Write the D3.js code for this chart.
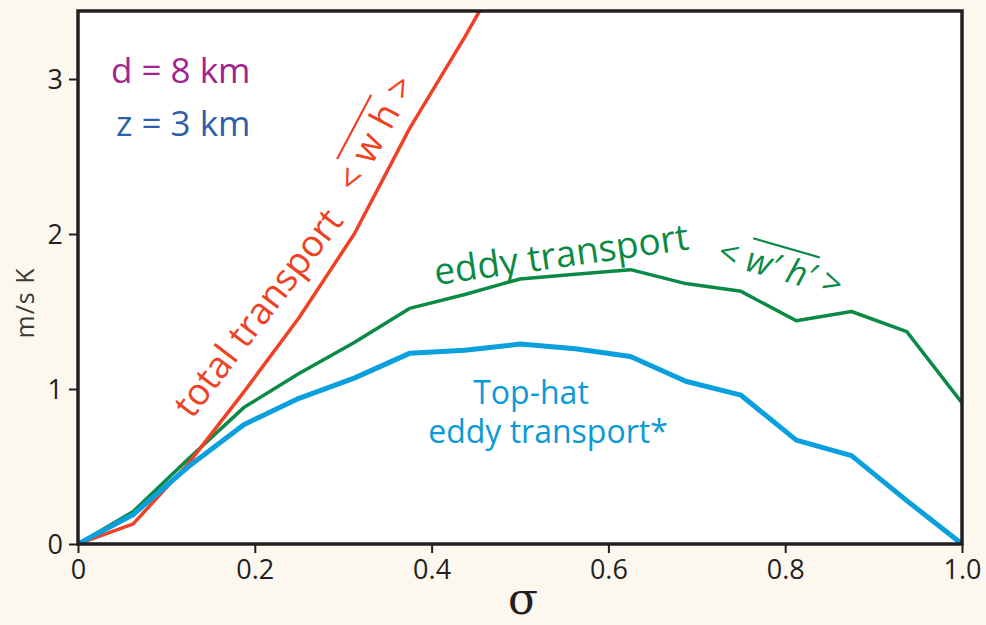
<!DOCTYPE html>
<html>
<head>
<meta charset="utf-8">
<script src="https://cdn.jsdelivr.net/npm/d3@7"></script>
<style>
  body { margin: 0; background: #fdf8ef; }
  svg { display: block; font-family: "Open Sans", sans-serif; }
</style>
</head>
<body>
<div id="chart"></div>
<script>
const width = 986,
      height = 625,
      margin = ({ top: 11, right: 24, bottom: 81, left: 78 });

// sigma positions (16 equal steps)
const sigma = [0, 0.0625, 0.125, 0.1875, 0.25, 0.3125, 0.375, 0.4375, 0.5,
               0.5625, 0.625, 0.6875, 0.75, 0.8125, 0.875, 0.9375, 1.0];
const totalTransport = [0, 0.13, 0.52, 0.98, 1.46, 2.0, 2.68, 3.27, 3.9];
const eddyTransport = [0, 0.21, 0.55, 0.88, 1.10, 1.30, 1.52, 1.61, 1.71,
                       1.74, 1.77, 1.68, 1.63, 1.44, 1.50, 1.37, 0.91];
const topHat = [0, 0.19, 0.50, 0.77, 0.94, 1.07, 1.23, 1.25, 1.29,
                1.26, 1.21, 1.05, 0.96, 0.67, 0.57, 0.28, 0];
const xTicks = [0, 0.2, 0.4, 0.6, 0.8, 1.0];
const xTickLabels = ["0", "0.2", "0.4", "0.6", "0.8", "1.0"];
const yTicks = [0, 1, 2, 3];

const svg = d3.select("#chart")
    .append("svg")
    .attr("width", width)
    .attr("height", height);

let x = d3.scaleLinear()
    .domain([0, 1])
    .range([margin.left, width - margin.right]);

let y = d3.scaleLinear()
    .domain([0, 3])
    .range([height - margin.bottom, height - margin.bottom - 3 * 155]);

const plotTop = margin.top,
      plotBottom = height - margin.bottom;

svg.append("defs").append("clipPath")
    .attr("id", "clip")
    .append("rect")
    .attr("x", margin.left)
    .attr("y", plotTop)
    .attr("width", width - margin.right - margin.left)
    .attr("height", plotBottom - plotTop);

svg.append("rect")
    .attr("x", margin.left)
    .attr("y", plotTop)
    .attr("width", width - margin.right - margin.left)
    .attr("height", plotBottom - plotTop)
    .attr("fill", "#fff");

// axes
let xAxis = svg.append("g")
    .attr("transform", `translate(0, ${plotBottom})`)
    .call(d3.axisBottom(x).tickValues(xTicks).tickSize(9).tickPadding(7)
        .tickFormat((d, i) => xTickLabels[i]));

let yAxis = svg.append("g")
    .attr("transform", `translate(${margin.left}, 0)`)
    .call(d3.axisLeft(y).tickValues(yTicks).tickSize(9).tickPadding(6)
        .tickFormat(d3.format("d")));

[xAxis, yAxis].forEach(a => {
    a.select(".domain").remove();
    a.selectAll("line").attr("stroke", "#231f20").attr("stroke-width", 2);
    a.selectAll("text")
        .attr("fill", "#231f20")
        .style("font-family", "'Open Sans', sans-serif")
        .style("font-size", "27px");
});
yAxis.selectAll("text").attr("dy", "0.36em");

// lines
const line = (vals) => d3.line()
    .x((d, i) => x(sigma[i]))
    .y(d => y(d))(vals);

const plot = svg.append("g").attr("clip-path", "url(#clip)");

plot.append("path")
    .attr("d", line(eddyTransport))
    .attr("fill", "none")
    .attr("stroke", "#0b8a45")
    .attr("stroke-width", 3.5)
    .attr("stroke-linejoin", "round");

plot.append("path")
    .attr("d", line(totalTransport))
    .attr("fill", "none")
    .attr("stroke", "#ef4123")
    .attr("stroke-width", 3.5)
    .attr("stroke-linejoin", "round");

plot.append("path")
    .attr("d", line(topHat))
    .attr("fill", "none")
    .attr("stroke", "#0aa0dd")
    .attr("stroke-width", 5)
    .attr("stroke-linejoin", "round");

// frame
svg.append("rect")
    .attr("x", margin.left)
    .attr("y", plotTop)
    .attr("width", width - margin.right - margin.left)
    .attr("height", plotBottom - plotTop)
    .attr("fill", "none")
    .attr("stroke", "#231f20")
    .attr("stroke-width", 3.5);

// annotations
svg.append("text")
    .attr("x", 111).attr("y", 83)
    .attr("fill", "#a3238e")
    .style("font-size", "35px")
    .text("d = 8 km");

svg.append("text")
    .attr("x", 116).attr("y", 136)
    .attr("fill", "#2e5fa9")
    .style("font-size", "35px")
    .text("z = 3 km");

function overline(t, i0, i1, lift, color) {
    let n = t.node();
    let a = n.getStartPositionOfChar(i0),
        b = n.getEndPositionOfChar(i1);
    d3.select(n.parentNode).append("line")
        .attr("x1", a.x).attr("x2", b.x)
        .attr("y1", -lift).attr("y2", -lift)
        .attr("stroke", color)
        .attr("stroke-width", 2.2);
}

// total transport
svg.append("g")
    .attr("transform", "translate(192, 420) rotate(-52.5)")
    .append("text")
    .attr("fill", "#ef4123")
    .style("font-size", "37px")
    .text("total transport");

let gRed = svg.append("g")
    .attr("transform", "translate(357, 194) rotate(-62)");
let tRed = gRed.append("text")
    .attr("fill", "#ef4123")
    .style("font-size", "36px")
    .style("letter-spacing", "1px")
    .text("< w h >");
overline(tRed, 1, 4, 34, "#ef4123");

// eddy transport
svg.append("g")
    .attr("transform", "translate(436, 285) rotate(-8)")
    .append("text")
    .attr("fill", "#0b8a45")
    .style("font-size", "37px")
    .text("eddy transport");

let gGreen = svg.append("g")
    .attr("transform", "translate(716, 262) rotate(16)");
let tGreen = gGreen.append("text")
    .attr("fill", "#0b8a45")
    .style("font-size", "35px");
tGreen.append("tspan").text("< ");
tGreen.append("tspan").style("font-style", "italic").text("w′ h′");
tGreen.append("tspan").text(" >");
overline(tGreen, 2, 6, 33, "#0b8a45");

// top-hat
svg.append("text")
    .attr("x", 531).attr("y", 404)
    .attr("text-anchor", "middle")
    .attr("fill", "#0a9ad8")
    .style("font-size", "32px")
    .text("Top-hat");

svg.append("text")
    .attr("x", 548).attr("y", 443)
    .attr("text-anchor", "middle")
    .attr("fill", "#0a9ad8")
    .style("font-size", "32px")
    .text("eddy transport*");

// axis titles
svg.append("text")
    .attr("transform", "translate(34, 303) rotate(-90)")
    .attr("text-anchor", "middle")
    .attr("fill", "#3a3a3a")
    .style("font-size", "25px")
    .style("letter-spacing", "1px")
    .text("m/s K");

svg.append("text")
    .attr("x", 523).attr("y", 614)
    .attr("text-anchor", "middle")
    .attr("fill", "#231f20")
    .style("font-family", "'DejaVu Serif', serif")
    .style("font-size", "44px")
    .text("σ");
</script>
</body>
</html>
